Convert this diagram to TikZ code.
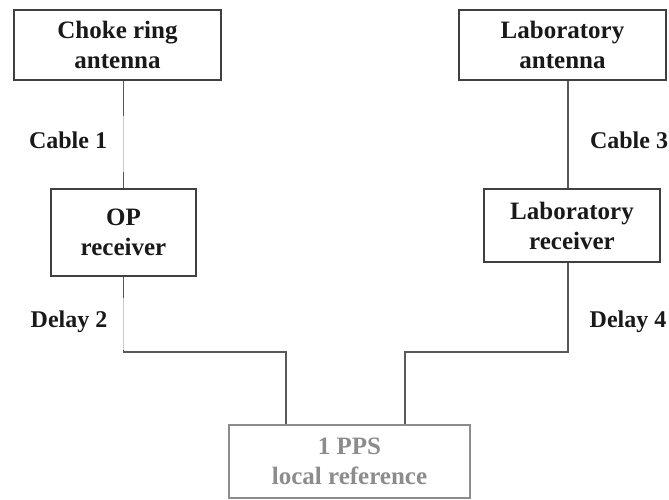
\documentclass[tikz,border=0pt]{standalone}
\usepackage{fontspec}
\setmainfont{Liberation Serif}
\begin{document}
\begin{tikzpicture}[x=1pt,y=-1pt,
  box/.style={draw=black!75, line width=1.3pt, inner sep=0pt, align=center,
    font=\fontsize{25}{30}\selectfont\bfseries, text=black!90},
  ppsbox/.style={box, draw=black!45, text=black!45},
  wire/.style={draw=black!65, line width=1.2pt},
  faint/.style={draw=black!20, line width=1.2pt},
  lbl/.style={font=\fontsize{24}{28}\selectfont\bfseries, text=black!90, inner sep=0pt}]
\useasboundingbox (0,0) rectangle (669,500);
\node[box, minimum width=207pt, minimum height=70pt] (choke) at (117.5,45) {Choke ring\\antenna};
\node[box, minimum width=145pt, minimum height=87pt] (op) at (123.5,232.5) {OP\\receiver};
\node[box, minimum width=207pt, minimum height=70pt] (labant) at (562.5,45) {Laboratory\\antenna};
\node[box, minimum width=176pt, minimum height=73pt] (labrec) at (572,225.5) {Laboratory\\receiver};
\node[ppsbox, minimum width=241pt, minimum height=73pt] (pps) at (349.5,461.5) {1 PPS\\local reference};
\coordinate (c3) at (568,0);
\coordinate (jl) at (286,0);
\coordinate (jr) at (405,0);
\coordinate (hy) at (0,352);
% cable 1
\draw[wire] (op.north) -- (op.north |- choke.south);
\draw[faint] (123.5,116) -- (123.5,172);
% cable 3
\draw[wire] (c3 |- labant.south) -- (c3 |- labrec.north);
% delay 2
\draw[wire] (op.south) -- (op.south |- hy) -- (jl |- hy) -- (jl |- pps.north);
\draw[faint] (123.5,298) -- (123.5,350);
% delay 4
\draw[wire] (jr |- pps.north) -- (jr |- hy) -- (c3 |- hy) -- (c3 |- labrec.south);
% labels
\node[lbl] (cab1) at (68,140) {Cable 1};
\node[lbl] (cab3) at (629,140) {Cable 3};
\node[lbl] (del2) at (69,322) {Delay 2};
\node[lbl] (del4) at (628,322) {Delay 4};
\end{tikzpicture}
\end{document}
